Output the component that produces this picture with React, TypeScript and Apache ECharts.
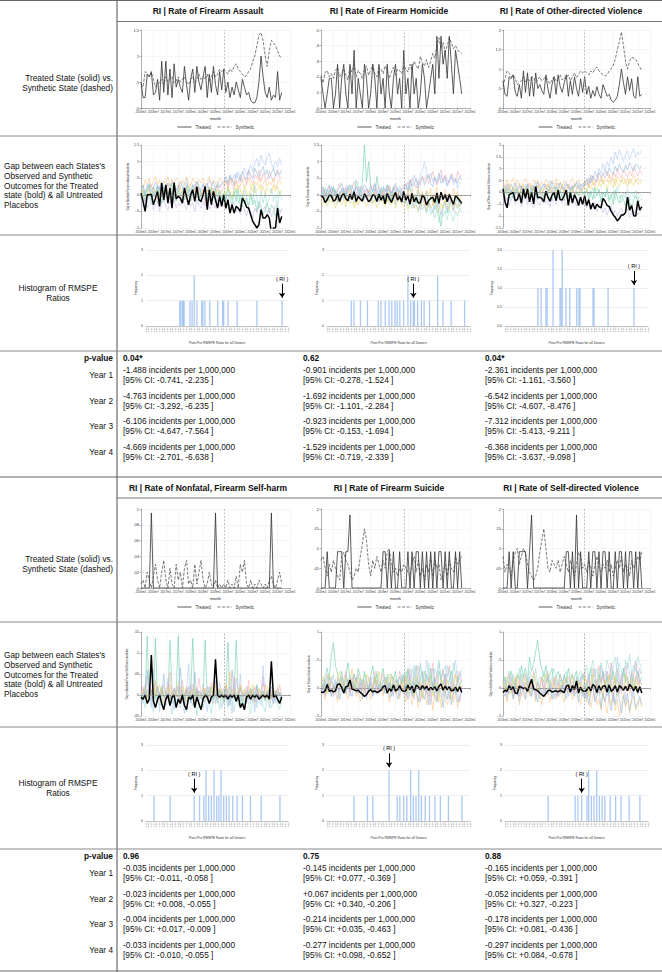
import React, { useEffect, useRef } from "react";
import * as echarts from "echarts";

const FONT = "'Liberation Sans', Arial, Helvetica, sans-serif";
const W = 662;
const H = 972;

const outcomes = [
  "RI | Rate of Firearm Assault",
  "RI | Rate of Firearm Homicide",
  "RI | Rate of Other-directed Violence",
  "RI | Rate of Nonfatal, Firearm Self-harm",
  "RI | Rate of Firearm Suicide",
  "RI | Rate of Self-directed Violence",
];
const gapAxisTitles = [
  "Gap in Nonfatal Firearm Assault incidents",
  "Gap in Firearm Homicide incidents",
  "Gap in Other-directed Violence incidents",
  "Gap in Nonfatal Firearm Self-harm incidents",
  "Gap in Firearm Suicide incidents",
  "Gap in Self-directed Violence incidents",
];
const pValues = ["0.04*", "0.62", "0.04*", "0.96", "0.75", "0.88"];
const yearLabels = ["Year 1", "Year 2", "Year 3", "Year 4"];
const legendNames = ["Treated", "Synthetic"];

// [estimate, CI bound, CI bound] for each post-period year
const effectsAssault = [["-1.488", "-0.741", "-2.235"], ["-4.763", "-3.292", "-6.235"], ["-6.106", "-4.647", "-7.564"], ["-4.669", "-2.701", "-6.638"]];
const effectsHomicide = [["-0.901", "-0.278", "-1.524"], ["-1.692", "-1.101", "-2.284"], ["-0.923", "-0.153", "-1.694"], ["-1.529", "-0.719", "-2.339"]];
const effectsOther = [["-2.361", "-1.161", "-3.560"], ["-6.542", "-4.607", "-8.476"], ["-7.312", "-5.413", "-9.211"], ["-6.368", "-3.637", "-9.098"]];
const effectsSelfHarm = [["-0.035", "-0.011", "-0.058"], ["-0.023", "+0.008", "-0.055"], ["-0.004", "+0.017", "-0.009"], ["-0.033", "-0.010", "-0.055"]];
const effectsSuicide = [["-0.145", "+0.077", "-0.369"], ["+0.067", "+0.340", "-0.206"], ["-0.214", "+0.035", "-0.463"], ["-0.277", "+0.098", "-0.652"]];
const effectsSelfDirected = [["-0.165", "+0.059", "-0.391"], ["-0.052", "+0.327", "-0.223"], ["-0.178", "+0.081", "-0.436"], ["-0.297", "+0.084", "-0.678"]];

// months counted from 2016m1; policy start and axis end
const TREAT_MONTH = 40;
const AXIS_MONTHS = 72;

// treated (solid) and synthetic (dashed) monthly rates
const treatedAssault = [0.5, 0.2, 0.2, 0.65, 0.6, 0.7, 0.25, 0.3, 0.55, 0.15, 0.9, 0.3, 0.9, 0.25, 0.75, 0.2, 0.85, 0.4, 0.55, 0.4, 0.3, 0.8, 0.45, 0.15, 0.55, 0.75, 0.3, 0.8, 0.5, 0.35, 0.6, 0.8, 0.2, 0.65, 0.3, 0.8, 0.45, 0.25, 0.7, 0.35, 0.75, 0.3, 0.5, 0.2, 0.4, 0.25, 0.5, 0.35, 0.2, 0.55, 0.4, 0.25, 0.3, 0.15, 0.1, 0.1, 0.2, 0.5, 1.0, 0.6, 0.3, 0.2, 0.4, 0.15, 0.25, 0.2, 0.7, 0.15, 0.3];
const synthAssault = [0.45, 0.4, 0.7, 0.65, 0.6, 0.68, 0.55, 0.4, 0.45, 0.5, 0.55, 0.45, 0.6, 0.5, 0.55, 0.6, 0.48, 0.52, 0.6, 0.5, 0.55, 0.6, 0.5, 0.45, 0.55, 0.6, 0.5, 0.55, 0.65, 0.55, 0.6, 0.55, 0.65, 0.5, 0.6, 0.7, 0.6, 0.65, 0.75, 0.7, 0.75, 0.7, 0.65, 0.75, 0.7, 0.8, 0.85, 0.75, 0.7, 0.65, 0.6, 0.62, 0.7, 0.75, 0.9, 1.0, 1.2, 1.4, 1.45, 1.3, 1.0, 0.8, 1.1, 1.3, 1.25, 1.2, 1.1, 1.0, 0.95];
const treatedHomicide = [0.19, 0.09, 0, 0.09, 0.19, 0.19, 0, 0.09, 0.28, 0, 0.19, 0.28, 0.09, 0, 0.28, 0.09, 0.37, 0, 0.19, 0.09, 0, 0.28, 0.19, 0, 0.09, 0.28, 0.19, 0, 0.28, 0.09, 0.19, 0, 0.28, 0.09, 0, 0.19, 0.28, 0.09, 0.19, 0, 0.37, 0.09, 0.19, 0, 0.28, 0.09, 0.19, 0, 0.09, 0.28, 0.19, 0, 0.09, 0.19, 0.28, 0.09, 0.46, 0.19, 0.46, 0.28, 0.37, 0.19, 0.46, 0.28, 0.09, 0.37, 0.28, 0.19, 0.09];
const synthHomicide = [0.21, 0.16, 0.23, 0.24, 0.2, 0.22, 0.19, 0.24, 0.26, 0.2, 0.22, 0.25, 0.21, 0.18, 0.26, 0.23, 0.28, 0.2, 0.24, 0.22, 0.19, 0.25, 0.27, 0.21, 0.24, 0.28, 0.22, 0.2, 0.26, 0.25, 0.22, 0.27, 0.24, 0.19, 0.23, 0.26, 0.21, 0.25, 0.24, 0.22, 0.27, 0.25, 0.23, 0.28, 0.24, 0.3, 0.27, 0.25, 0.33, 0.29, 0.27, 0.31, 0.26, 0.3, 0.35, 0.32, 0.4, 0.45, 0.38, 0.42, 0.36, 0.4, 0.45, 0.42, 0.38, 0.4, 0.37, 0.36, 0.35];
const treatedOther = [0.7, 0.35, 0.3, 0.8, 0.75, 0.85, 0.4, 0.3, 0.6, 0.25, 0.95, 0.4, 0.9, 0.3, 0.8, 0.3, 0.9, 0.5, 0.6, 0.45, 0.35, 0.85, 0.5, 0.25, 0.6, 0.8, 0.35, 0.85, 0.55, 0.4, 0.65, 0.85, 0.3, 0.7, 0.35, 0.8, 0.5, 0.3, 0.75, 0.4, 0.8, 0.35, 0.55, 0.25, 0.45, 0.3, 0.55, 0.35, 0.25, 0.6, 0.45, 0.3, 0.35, 0.2, 0.15, 0.2, 0.3, 0.6, 1.0, 0.65, 0.35, 0.8, 0.45, 0.75, 0.3, 0.25, 0.8, 0.3, 0.35];
const synthOther = [0.55, 0.75, 0.95, 0.9, 0.8, 0.85, 0.75, 0.6, 0.65, 0.7, 0.8, 0.65, 0.75, 0.7, 0.8, 0.78, 0.65, 0.72, 0.8, 0.7, 0.75, 0.8, 0.7, 0.62, 0.72, 0.8, 0.7, 0.75, 0.85, 0.72, 0.78, 0.75, 0.85, 0.7, 0.8, 0.9, 0.78, 0.85, 0.95, 0.9, 0.95, 0.9, 0.85, 0.95, 0.9, 1.0, 1.05, 0.95, 0.9, 0.85, 0.82, 0.85, 0.95, 1.0, 1.1, 1.25, 1.5, 1.7, 1.95, 1.6, 1.2, 1.0, 1.2, 1.3, 1.28, 1.25, 1.15, 1.05, 0.95];
const treatedSelfHarm = [0, 0, 0, 0, 0, 0.095, 0, 0, 0, 0, 0, 0, 0, 0, 0, 0, 0, 0, 0, 0, 0, 0, 0, 0, 0, 0, 0, 0, 0, 0, 0, 0, 0, 0, 0, 0, 0.095, 0, 0, 0, 0, 0, 0, 0, 0, 0, 0, 0, 0, 0, 0, 0, 0, 0, 0, 0, 0, 0, 0, 0, 0, 0, 0, 0.095, 0, 0, 0, 0, 0];
const synthSelfHarm = [0.005, 0.01, 0, 0.02, 0.01, 0, 0.015, 0.03, 0.01, 0, 0.02, 0.035, 0.01, 0, 0.025, 0.005, 0, 0.03, 0.01, 0.02, 0, 0.025, 0.035, 0.005, 0.01, 0, 0.03, 0.005, 0.02, 0.035, 0.01, 0, 0.005, 0.02, 0.005, 0, 0.01, 0, 0.005, 0, 0.005, 0, 0.01, 0, 0.005, 0, 0.015, 0, 0.03, 0.02, 0.035, 0.005, 0, 0.01, 0, 0.005, 0, 0.01, 0.005, 0, 0.005, 0, 0.01, 0.015, 0.005, 0, 0.01, 0.02, 0.005];
const treatedSuicide = [0, 0, 0, 0.092, 0, 0, 0, 0, 0.092, 0.092, 0.092, 0, 0.092, 0.092, 0.185, 0, 0, 0, 0, 0, 0, 0, 0, 0, 0, 0, 0, 0, 0, 0, 0.092, 0.092, 0, 0.092, 0, 0.092, 0, 0, 0.092, 0, 0, 0, 0.092, 0, 0.092, 0, 0.092, 0.092, 0, 0.092, 0, 0.092, 0, 0.092, 0, 0.092, 0, 0.092, 0.092, 0, 0.092, 0, 0.092, 0, 0, 0.092, 0, 0.092, 0];
const synthSuicide = [0.07, 0.08, 0.05, 0.03, 0.06, 0.04, 0.07, 0.05, 0.03, 0.02, 0.08, 0.09, 0.07, 0.06, 0.04, 0.02, 0.03, 0.05, 0.04, 0.08, 0.11, 0.15, 0.12, 0.06, 0.03, 0.07, 0.05, 0.08, 0.06, 0.04, 0.07, 0.05, 0.09, 0.1, 0.06, 0.04, 0.05, 0.03, 0.05, 0.04, 0.06, 0.05, 0.04, 0.03, 0.06, 0.08, 0.04, 0.07, 0.03, 0.05, 0.02, 0.06, 0.04, 0.08, 0.03, 0.07, 0.05, 0.06, 0.02, 0.04, 0.06, 0.03, 0.07, 0.05, 0.04, 0.08, 0.06, 0.07, 0.08];
const treatedSelfDirected = [0, 0, 0, 0.092, 0, 0.092, 0, 0, 0.092, 0.092, 0.092, 0.092, 0, 0.092, 0.185, 0, 0, 0, 0, 0, 0, 0, 0, 0, 0, 0, 0, 0, 0, 0, 0, 0.092, 0.092, 0, 0.092, 0, 0.185, 0, 0.092, 0, 0, 0, 0.092, 0, 0.092, 0.092, 0, 0.092, 0, 0.092, 0.092, 0, 0.092, 0, 0, 0.092, 0, 0.092, 0.092, 0, 0.092, 0, 0.092, 0.092, 0, 0.092, 0, 0.092, 0];
const synthSelfDirected = [0.08, 0.04, 0.06, 0.05, 0.03, 0.07, 0.09, 0.1, 0.06, 0.08, 0.1, 0.09, 0.06, 0.04, 0.03, 0.02, 0.03, 0.05, 0.09, 0.12, 0.15, 0.1, 0.05, 0.04, 0.07, 0.06, 0.05, 0.07, 0.04, 0.06, 0.08, 0.06, 0.04, 0.07, 0.05, 0.03, 0.06, 0.09, 0.08, 0.05, 0.06, 0.04, 0.07, 0.05, 0.03, 0.06, 0.08, 0.05, 0.04, 0.06, 0.05, 0.07, 0.04, 0.06, 0.03, 0.05, 0.07, 0.05, 0.08, 0.04, 0.06, 0.05, 0.03, 0.07, 0.05, 0.06, 0.08, 0.07, 0.09];

// placebo gaps for untreated donor states (hundredths; self-harm in thousandths)
const placeboAssault = [
  [10, 25, 5, 30, 15, -5, 20, 40, 10, 25, 35, 15, 30, 5, 20, 45, 25, 10, 30, 20, 15, 35, 50, 20, 10, 30, 25, 40, 15, 20, 35, 10, 25, 45, 30, 15, 20, 40, 25, 30, 35, 45, 30, 55, 40, 60, 50, 70, 45, 65, 80, 60, 75, 90, 70, 95, 110, 85, 120, 100, 90, 115, 125, 95, 80, 100, 85, 110, 90],
  [-10, 15, -20, 5, 30, -15, 10, -5, 25, 0, -25, 10, 20, -10, 5, 35, -5, -20, 15, 0, 10, -15, 25, 5, -10, 20, -5, 15, -20, 10, 0, 25, -15, 5, 20, -10, 15, -5, 10, -20, 5, -15, 20, -5, -30, 10, -20, 15, -35, 0, -25, -10, -40, 5, -30, -15, -50, -20, -35, -60, -45, -25, -55, -30, -40, -65, -35, -50, -45],
  [20, -10, 5, -25, 15, 30, -5, 10, -15, 25, 5, -20, 15, 35, 0, -10, 20, -5, 30, 10, -15, 25, 0, 15, -20, 5, 30, -10, 20, 0, 15, -25, 10, 25, -5, 20, 0, 30, -10, 15, 25, 40, 20, 50, 30, 15, 45, 35, 60, 40, 55, 30, 70, 45, 35, 60, 50, 75, 40, 65, 50, 45, 70, 55, 40, 60, 75, 50, 55],
  [35, 20, 45, 30, 50, 25, 40, 55, 30, 45, 20, 40, 35, 55, 25, 45, 30, 50, 40, 20, 45, 30, 55, 35, 25, 50, 40, 30, 45, 35, 50, 25, 40, 55, 30, 45, 35, 20, 50, 40, 30, 45, 20, 35, 50, 25, 40, 15, 30, 45, 20, 35, 50, 25, 10, 40, 30, 55, 20, 35, 45, 25, 40, 30, 50, 20, 35, 45, 30],
  [-20, -35, -10, -40, -25, -15, -45, -30, -20, -50, -25, -10, -35, -45, -20, -30, -15, -40, -25, -35, -10, -30, -45, -20, -35, -25, -50, -15, -30, -40, -20, -35, -10, -45, -30, -25, -40, -15, -35, -20, -30, -45, -25, -55, -35, -20, -50, -40, -60, -30, -45, -65, -35, -50, -70, -40, -55, -30, -60, -45, -35, -55, -40, -65, -50, -30, -45, -60, -40],
  [5, 15, -5, 20, 10, 0, 25, 5, 15, -10, 20, 5, 30, 10, -5, 15, 25, 0, 10, 20, 5, -10, 15, 30, 10, 0, 20, 5, 25, 10, -5, 15, 10, 25, 0, 20, 5, 15, -5, 10, 15, 0, 25, 10, -10, 20, 5, 30, 15, 0, 25, 10, -5, 20, 35, 5, 15, 30, 10, 25, 0, 20, 15, 5, 30, 10, 25, 0, 15],
  [15, 30, 0, 20, 35, 10, 25, 5, 30, 15, 40, 20, 10, 35, 25, 0, 30, 15, 20, 40, 25, 10, 35, 20, 5, 30, 15, 40, 25, 10, 30, 20, 35, 5, 25, 40, 15, 30, 20, 35, 40, 55, 35, 60, 45, 30, 65, 50, 40, 70, 55, 45, 75, 60, 50, 80, 65, 55, 70, 85, 60, 75, 50, 65, 80, 55, 70, 60, 75],
  [-5, -20, 10, -15, 0, -30, 5, -10, -25, 15, -5, -20, 0, 10, -15, -30, 5, -10, 20, -5, -25, 0, -10, 15, -20, 5, -15, -5, 10, -25, 0, -15, 5, -20, 10, -5, -25, 0, 15, -10, -20, 5, -30, 10, -15, -5, 20, -25, 0, -35, 15, -10, -30, 5, -20, 30, -15, -40, 10, -25, 5, -30, -10, 20, -20, 0, -35, 10, -15],
];
const placeboHomicide = [
  [-10, 15, 5, -20, 10, 25, -5, 15, 0, -15, 20, 5, -10, 30, 10, -5, 15, -20, 5, 25, 0, -15, 20, 10, -5, 15, 30, 0, -10, 20, 5, -20, 15, 25, -5, 10, 0, 20, -15, 5, 15, 30, 10, 45, 25, 60, 40, 30, 55, 75, 100, 70, 50, 65, 40, 55, 30, 45, 60, 35, 50, 25, 40, 55, 30, 45, 20, 35, 40],
  [10, -5, 20, 0, 15, -10, 25, 5, -15, 10, 0, 20, -10, 15, 30, 5, -5, 45, 20, 10, 35, 150, 40, 100, 25, 10, -5, 55, 15, 0, 20, -10, 30, 5, -15, 25, 10, -5, 15, 0, 10, -20, 5, 25, -10, 0, -25, 15, -30, 5, -15, 10, -35, -5, -20, -45, -10, -60, -95, -40, -20, -55, -30, -10, -45, -25, -5, -35, -20],
  [5, 20, -10, 10, 25, 0, 15, -5, 20, 35, 10, -5, 25, 15, 0, 20, 40, 10, -10, 15, 25, 5, 20, -5, 15, 30, 10, 0, 25, 15, -5, 20, 10, 30, 5, 15, 25, -10, 10, 20, 30, 15, 40, 25, 50, 35, 20, 45, 30, 55, 40, 60, 35, 50, 70, 45, 30, 55, 75, 40, 60, 45, 35, 65, 50, 40, 70, 55, 60],
  [-15, 0, 10, -20, 5, -10, 15, -5, -25, 5, -10, 10, -20, 0, 15, -15, 5, -30, -5, 10, -20, 5, -10, 15, -25, 0, 10, -15, 5, -20, 10, -5, -20, 15, -10, 5, -25, 0, 10, -15, 5, -20, 15, -5, 20, -15, 0, 25, -10, 10, -25, 15, -5, 20, -30, 5, 25, -15, 10, -20, 15, -10, 5, -25, 20, -5, 10, -20, 0],
  [20, 5, -10, 15, 0, 25, -5, 10, -15, 5, 15, -10, 20, 0, -20, 10, 5, -5, 25, -10, 5, 15, -15, 10, 0, -10, 20, 5, -20, 15, 0, -5, 15, -15, 10, 20, -10, 5, -5, 15, -10, -25, 5, -30, -15, -40, 0, -20, -45, -10, -30, -50, -20, -35, -55, -15, -40, -25, -60, -30, -20, -45, -10, -35, -50, -25, -40, -15, -30],
  [-20, -30, -10, -35, -15, -25, -5, -40, -20, -10, -30, -15, -35, -5, -25, -20, -40, -10, -30, -15, -5, -25, -35, -20, -10, -30, -15, -40, -25, -5, -20, -35, -10, -25, -30, -15, -40, -20, -10, -30, -35, -20, -45, -25, -10, -40, -30, -50, -15, -35, -25, -45, -20, -40, -30, -10, -35, -50, -25, -40, -15, -30, -45, -20, -35, -25, -40, -30, -20],
  [10, 25, 0, 15, 30, 5, 20, -5, 10, 25, 35, 10, 0, 20, 15, 30, 5, 25, 10, -5, 15, 30, 20, 5, 25, 10, 35, 15, 0, 20, 25, 10, 30, 15, 5, 20, 35, 10, 25, 15, 20, 35, 15, 45, 25, 30, 50, 20, 40, 55, 30, 45, 60, 35, 25, 50, 40, 65, 35, 45, 55, 30, 45, 60, 40, 50, 35, 55, 45],
  [-5, 10, -15, 0, -20, 5, -10, 15, -25, -5, 0, -15, 10, -20, -5, 5, -25, 0, -10, 15, -20, -5, 5, -15, 10, -25, -10, 0, -20, 5, -15, 0, -5, -20, 5, -10, -30, -5, 0, -15, -25, -10, -35, -20, -40, -15, -30, -50, -25, -45, -35, -55, -30, -60, -45, -70, -40, -85, -55, -65, -50, -75, -45, -60, -80, -50, -65, -40, -55],
];
const placeboOther = [
  [10, 30, -5, 20, 35, 15, -10, 25, 40, 5, 20, 35, 10, -5, 30, 15, 45, 20, 0, 25, 35, 10, 30, 50, 15, -5, 25, 40, 20, 10, 30, 45, 15, 25, 5, 35, 20, 40, 30, 15, 45, 60, 35, 75, 50, 90, 65, 100, 80, 120, 95, 130, 110, 150, 120, 170, 140, 180, 155, 130, 160, 175, 140, 165, 185, 150, 170, 160, 180],
  [-15, 5, 20, -10, 10, -25, 15, 0, -20, 25, 5, -10, 30, -15, 0, 20, -5, -30, 10, 15, -20, 5, -10, 25, 0, -15, 20, -5, 10, -25, 15, -5, -20, 10, 25, -10, 5, -15, 20, 0, -10, 15, -25, 5, -30, 20, -15, 10, -40, 0, -20, 15, -35, -5, -50, 10, -25, -45, -10, -30, -55, -20, -40, -65, -30, -15, -50, -35, -25],
  [25, 0, 15, 35, -5, 20, 10, -15, 30, 5, -10, 25, 15, 40, 0, 20, -5, 30, 10, -20, 15, 35, 5, 20, -10, 25, 40, 0, 15, 30, -5, 20, 35, 10, 25, -10, 15, 30, 5, 20, 30, 50, 20, 65, 40, 30, 75, 55, 45, 80, 60, 90, 70, 55, 85, 65, 100, 75, 60, 95, 80, 65, 90, 70, 110, 85, 70, 95, 75],
  [40, 20, 55, 30, 45, 60, 25, 50, 35, 15, 45, 60, 30, 40, 20, 55, 35, 50, 25, 45, 30, 55, 40, 20, 50, 35, 60, 25, 45, 30, 50, 35, 20, 45, 60, 30, 40, 55, 25, 40, 35, 55, 25, 45, 70, 30, 50, 40, 65, 35, 55, 45, 75, 40, 60, 30, 70, 50, 45, 65, 40, 60, 35, 55, 75, 45, 60, 50, 55],
  [-30, -45, -20, -55, -35, -15, -50, -40, -25, -60, -35, -20, -50, -30, -45, -65, -25, -40, -55, -30, -20, -45, -35, -60, -25, -40, -50, -15, -35, -45, -25, -55, -40, -20, -45, -35, -60, -30, -50, -40, -45, -65, -35, -75, -55, -40, -80, -60, -50, -85, -65, -95, -70, -55, -90, -75, -100, -80, -65, -95, -85, -70, -105, -80, -90, -75, -95, -85, -80],
  [5, 20, -10, 15, 30, 0, 25, 10, -5, 20, 35, 5, 15, -10, 25, 10, 0, 30, 15, -5, 20, 10, 35, 0, 15, 25, -10, 20, 5, 30, 10, -5, 25, 15, 0, 35, 20, 5, -10, 15, 25, 5, 30, 15, 45, 20, 10, 40, 25, 55, 30, 15, 50, 35, 20, 60, 40, 25, 55, 35, 45, 25, 60, 40, 30, 50, 35, 45, 40],
  [20, 5, 35, 15, -5, 25, 40, 10, 20, 30, 0, 15, 35, 20, 5, 30, 10, 45, 25, 15, 35, 20, 5, 30, 45, 15, 25, 10, 40, 20, 15, 35, 25, 5, 30, 20, 45, 15, 35, 25, 45, 30, 60, 40, 70, 55, 45, 85, 65, 75, 95, 70, 105, 85, 75, 110, 90, 120, 100, 85, 115, 95, 125, 105, 90, 120, 110, 100, 115],
  [-10, -25, 5, -15, -30, 0, -20, 10, -5, -35, -15, 0, -25, -10, 15, -20, -5, -30, 5, -15, -25, -5, 10, -20, -35, 0, -10, -25, 5, -15, -30, -5, -20, 10, -15, -25, 0, -10, -35, -5, -15, 5, -30, -10, 20, -25, -5, 15, -35, 0, -20, 10, -40, -15, 5, -30, 25, -10, -45, -5, -25, 15, -35, 0, -20, 10, -30, -15, -10],
];
const placeboSelfHarm = [
  [10, -20, 25, -5, 0, -30, 60, -10, 5, -40, 15, 0, -25, 40, -10, 5, -35, 0, 20, -15, 0, -45, 10, 75, -20, 5, -30, 15, 0, -10, 25, -5, -40, 10, 0, -20, 35, -10, 5, -30, 0, 15, -25, 5, -45, 20, 0, -15, 50, -5, -35, 10, 0, -20, 15, -40, 5, 0, -25, 70, -10, 5, -30, 0, 15, -20, 5, -10, 0],
  [0, -10, 5, 140, -5, 10, 0, 135, -15, 5, 20, -5, 0, -10, 130, 10, -5, 0, 140, -20, 5, -10, 15, 0, -5, 135, 10, -15, 0, 5, -10, 130, 0, -5, 20, -10, 0, -5, 10, 0, -15, 5, 125, 0, -10, 10, 130, -5, 0, -20, 5, 0, -10, 15, -5, 0, 25, -10, 5, 0, -15, 10, 0, -5, 5, -10, 0, 5, -5],
  [5, 20, -10, 45, 0, 15, -5, 30, 10, -15, 0, 25, 5, -10, 55, 0, -5, 20, 10, -20, 35, 0, 15, -5, 10, 25, -15, 0, 40, 5, -10, 15, 0, -5, 30, 10, -20, 5, 15, 0, -5, 25, 10, -15, 0, 45, 5, -10, 20, 0, 10, -5, 35, 0, -15, 20, 5, -5, 10, 30, 0, -10, 15, 5, -20, 10, 0, 25, -5],
  [-5, 10, 0, -15, 20, 5, -10, 35, 0, -5, 15, -20, 5, 0, 25, -10, 10, -5, 30, 0, -15, 5, 20, -5, 0, 15, -25, 10, 0, -10, 20, 5, -15, 0, 10, -5, 25, -10, 5, 15, -20, 0, 10, 55, -5, 15, 0, -10, 25, 5, -15, 0, 20, -5, 10, -20, 5, 15, 0, -10, 25, 0, -15, 10, 5, -5, 20, 0, -10],
  [0, 15, -5, 10, 25, -10, 5, 0, 20, -5, 10, 0, -15, 30, 5, -5, 15, 0, -10, 20, 5, -20, 10, 0, 25, -5, 5, 15, -10, 0, 10, -5, 20, 0, -15, 5, 10, -5, 30, 0, 15, -10, 5, 20, 0, -5, 40, 10, -15, 5, 0, 20, -10, 5, 15, 0, -20, 10, 5, 45, -5, 10, 0, 20, -10, 5, 15, 0, 5],
  [10, 0, 20, -5, 10, 5, -10, 15, 0, 25, -5, 10, 0, 20, -10, 5, 15, 0, -5, 10, 20, 0, -15, 10, 5, 0, 20, -5, 10, 0, -10, 15, 5, 0, 20, -5, 10, 0, 15, -10, 5, 25, 0, -5, 15, 10, -10, 5, 20, 0, 15, -5, 10, 0, 25, -10, 5, 15, 0, 10, -5, 20, 5, -10, 15, 0, 10, 5, 0],
  [-10, 5, 0, 60, -5, 10, -15, 0, 20, -5, 0, 50, -10, 5, 0, -20, 15, 0, -5, 65, 0, -10, 5, 20, -15, 0, 55, -5, 10, 0, -15, 5, 0, 20, -10, 0, 5, -20, 10, 0, -5, 15, 0, -25, 60, 5, -10, 0, 15, -5, 0, -20, 10, 5, 0, -15, 20, -5, 0, 10, -10, 0, 15, -5, -20, 10, 0, 5, -10],
  [-20, 0, -30, 10, -15, -5, -40, 5, -10, -25, 0, -35, -10, 5, -20, -45, 0, -15, -5, -30, 10, -20, -40, 0, -10, -25, 5, -50, -15, 0, -30, -10, 5, -20, -45, 0, -15, -5, -35, 10, -20, -5, -30, 0, -15, -40, 5, -25, -10, -5, -35, 0, -20, -45, -10, 5, -30, -15, 0, -25, -40, -10, 0, -30, -15, 5, -20, -35, -10],
];
const placeboSuicide = [
  [-5, 10, -15, 5, 20, -10, 0, 15, -20, 5, 10, -5, 25, 0, -15, 10, -5, 20, 5, -10, 0, 15, -20, 5, 10, -15, 20, -5, 0, 10, -10, 5, 15, -20, 0, 10, -5, 15, -15, 5, 20, -10, 30, 10, -5, 40, 15, 0, 45, 20, 10, 50, 25, 5, 35, -10, 20, 45, 15, 30, 5, 40, 20, -5, 30, 50, 10, 25, 20],
  [10, -5, 20, 35, 15, 60, 80, 40, 25, 10, 30, 5, 20, 45, 15, 0, 25, 10, 35, 20, 5, 30, 15, -5, 20, 40, 10, 25, 0, 15, 35, 10, 20, -5, 25, 15, 30, 5, 20, 10, 25, 0, 35, 15, -10, 20, 40, 5, 15, 30, -5, 25, 10, 35, 0, 20, -10, 30, 15, 5, 25, -5, 15, 30, 10, -10, 20, 5, 15],
  [15, 0, 10, 25, -5, 15, 5, -10, 20, 10, -5, 15, 30, 5, -10, 20, 0, 10, 25, -5, 15, 5, -15, 20, 10, 0, 30, 5, -10, 15, 25, 0, 10, -5, 20, 15, -10, 5, 30, 10, -5, 20, 5, 35, 15, -10, 25, 40, 0, 15, 30, 10, -15, 20, 45, 5, 25, -5, 15, 35, 0, 20, 40, 10, -10, 25, 15, 30, 10],
  [-10, 5, -20, 0, 10, -15, 5, -5, -25, 0, 15, -10, 0, -20, 5, -5, 10, -15, 0, -25, 5, -10, 10, -5, -20, 0, 15, -10, -5, 5, -15, 0, 10, -25, -5, 5, -10, 0, -20, 10, -5, -25, 5, -15, -30, 0, -10, -35, -5, -20, 5, -30, -15, 0, -40, -10, -25, 5, -35, -15, -5, -30, -20, 0, -25, -10, -35, -15, -20],
  [5, -10, 15, -5, 0, 20, -15, 10, 0, -5, 20, 5, -10, 15, -5, 0, 25, -10, 5, 15, -5, 10, -15, 0, 20, 5, -10, 15, -5, 0, 10, 20, -10, 5, 0, -15, 15, 5, -5, 20, 10, -15, 0, 25, -5, -20, 15, 5, -25, 10, 0, -10, 20, -30, 5, 15, -20, 0, 10, -15, 25, -5, -20, 10, 0, -10, 15, -25, 5],
  [0, 20, 5, -10, 25, 10, 0, -5, 15, 30, 5, -10, 20, 0, 10, 35, -5, 15, 0, 20, 10, -5, 25, 15, 0, -10, 20, 5, 30, 0, -5, 15, 10, 25, 0, 20, -10, 10, 5, 15, 0, 25, -10, 15, 5, -15, 20, 0, 10, -20, 15, 5, -5, 25, -15, 10, 0, -25, 20, 5, -10, 15, 0, -20, 10, 25, -5, 5, 0],
  [-5, 5, -10, 10, 0, -15, 5, -5, 10, -20, 0, 5, -10, 15, -5, -15, 5, 0, -10, 10, -20, 0, 5, -5, 10, -15, 0, 5, -10, -5, 5, -10, 0, 10, -15, -5, 5, -20, 0, -5, -10, 5, -20, 0, -15, 10, -5, -25, 5, -10, -20, 0, -30, -5, 10, -15, -25, 0, -10, -35, -5, -20, 0, -30, -10, 5, -25, -15, -10],
  [10, 15, 0, 20, 5, 10, 25, 0, 15, 5, 20, 10, -5, 15, 25, 5, 10, 0, 20, 15, 5, 25, 10, 0, 15, 20, 5, 30, 10, 0, 15, 5, 25, 10, -5, 20, 10, 15, 0, 25, 10, 30, 15, 5, 35, 20, 0, 25, 40, 10, 30, 15, 45, 20, 5, 35, 25, 50, 15, 30, 40, 20, 35, 10, 45, 25, 30, 15, 35],
];
const placeboSelfDirected = [
  [-10, 5, -20, 10, 0, -15, 15, -5, -25, 5, 10, -10, 0, 20, -15, 5, -5, 10, -20, 0, 15, -5, -10, 10, 0, -20, 5, 15, -10, 0, -5, 15, -15, 5, 0, -10, 20, -5, 5, -15, 10, -20, 25, -5, 15, 35, 0, -10, 40, 20, 5, 30, -15, 45, 20, 10, 55, 25, 0, 35, 15, 45, 25, 5, 30, 50, 15, 35, 25],
  [5, 20, -5, 15, 30, 10, 0, 25, 15, 40, 20, 35, 10, 55, 30, 45, 65, 85, 50, 35, 20, 40, 10, 25, 35, 5, 20, 30, 15, 0, 25, 10, 35, 15, -5, 20, 30, 5, 15, 25, 10, -10, 20, 35, 0, 15, -5, 25, 10, 30, 0, 20, -10, 15, 30, 5, 25, -5, 15, 35, 10, 20, 0, 25, -5, 15, 30, 10, 20],
  [15, -5, 10, 25, 5, -10, 20, 0, 15, -15, 5, 25, -5, 10, 0, 30, 15, -10, 5, 20, 0, 15, 30, -5, 10, 20, 5, -15, 25, 10, 0, -5, 20, 10, 25, -10, 5, 15, 0, 20, 30, 5, 15, -10, 35, 20, 0, 40, 10, 25, -5, 30, 15, 45, 0, 20, 35, 10, -10, 25, 40, 15, 0, 30, 20, 45, 5, 25, 30],
  [-15, 0, -25, -5, 10, -20, -5, 5, -30, -10, 0, -20, 5, -15, -5, 10, -25, 0, -10, -30, 5, -15, -5, -25, 0, 10, -20, -10, 5, -15, -25, 0, -10, 5, -20, -5, 10, -15, -30, 0, -10, -25, 0, -35, -15, 5, -30, -20, -40, -5, -25, -45, -15, -30, -5, -40, -20, -50, -30, -10, -35, -20, -45, -25, -15, -40, -30, -20, -35],
  [0, 15, -10, 5, 20, -5, 10, -15, 0, 25, -5, 10, 0, -10, 15, 5, -20, 10, 0, 15, -10, 5, 20, -5, 0, 15, -15, 10, 5, -10, 20, 0, -5, 15, -10, 5, 10, -5, 20, 0, -15, 10, 25, -5, 0, -20, 15, 5, -10, 30, 0, -15, 20, 10, -25, 5, 15, -10, 25, 0, -20, 10, 5, -15, 20, 0, -10, 15, 5],
  [10, -5, 20, 0, -10, 15, 5, 25, -5, 10, 20, 0, 15, -10, 5, 25, 10, -5, 0, 20, 10, 25, -5, 15, 5, 0, 20, 10, -10, 15, 5, 20, 0, 10, 25, -5, 15, 0, 10, -10, 20, 5, -15, 10, 25, 0, -10, 20, 5, -20, 15, 0, 25, -10, 5, 20, -15, 10, 0, -5, 25, 5, -10, 15, 0, 20, -5, 10, 5],
  [-5, -15, 0, -10, 5, -20, -5, 0, -15, 5, -10, -20, 0, -5, -15, 5, -10, -25, 0, -5, -15, 0, -10, 5, -20, -5, 0, -15, -10, 5, -5, -20, 0, -10, 5, -15, -5, -25, 0, -10, -20, -5, -30, -10, 5, -25, -15, 0, -35, -10, -25, 5, -20, -40, -10, -30, 0, -20, -45, -15, -30, -10, -40, -20, -5, -35, -25, -15, -30],
  [20, 5, 15, 30, 10, 25, 0, 15, 35, 10, 25, 15, 5, 30, 20, 10, 35, 5, 20, 15, 30, 10, 25, 0, 20, 35, 15, 5, 25, 10, 20, 30, 5, 15, 25, 10, 0, 20, 30, 15, 25, 40, 15, 30, 50, 20, 35, 10, 45, 30, 20, 50, 35, 15, 40, 55, 25, 45, 30, 20, 50, 35, 60, 25, 40, 30, 55, 45, 35],
];

// post/pre RMSPE ratio of each donor, its bar height, and Rhode Island's own ratio
const ratiosAssault = [0.63, 0.65, 0.68, 0.7, 0.71, 0.82, 0.86, 0.9, 0.95, 1.04, 1.06, 1.1, 1.19, 1.34, 1.43, 1.45, 1.53, 1.7, 2.07];
const countsAssault = [1, 1, 1, 1, 1, 1, 1, 2, 1, 1, 1, 1, 1, 1, 1, 1, 1, 1, 1];
const riAssault = 2.54;
const ratiosHomicide = [0.45, 0.5, 0.62, 0.75, 0.95, 1.0, 1.08, 1.15, 1.2, 1.26, 1.3, 1.35, 1.42, 1.5, 1.55, 1.62, 1.68, 1.75, 1.8, 1.9, 2.05, 2.15, 2.3, 2.55];
const countsHomicide = [1, 1, 1, 1, 1, 1, 1, 1, 1, 1, 1, 1, 1, 2, 1, 1, 1, 1, 1, 1, 2, 1, 1, 1];
const riHomicide = 1.6;
const ratiosOther = [0.61, 0.67, 0.76, 0.78, 0.89, 1.02, 1.04, 1.06, 1.13, 1.2, 1.33, 1.37, 1.39, 1.63, 1.65, 1.91];
const countsOther = [1, 1, 1, 1, 2, 1, 1, 2, 1, 1, 1, 1, 1, 1, 1, 1];
const riOther = 2.39;
const ratiosSelfHarm = [0.15, 0.45, 1.0, 1.08, 1.12, 1.17, 1.22, 1.27, 1.32, 1.36, 1.4, 1.45, 1.5, 1.55, 1.62, 1.7, 1.8, 1.95, 2.15, 2.5];
const countsSelfHarm = [1, 1, 1, 1, 2, 1, 1, 2, 1, 1, 2, 1, 1, 1, 1, 1, 1, 1, 1, 1];
const riSelfHarm = 0.9;
const ratiosSuicide = [0.5, 0.75, 0.85, 1.3, 1.35, 1.42, 1.48, 1.55, 1.6, 1.65, 1.7, 1.75, 1.82, 1.9, 2.0, 2.1, 2.25, 2.5];
const countsSuicide = [1, 1, 1, 1, 1, 1, 1, 2, 1, 1, 2, 1, 1, 1, 1, 1, 1, 1];
const riSuicide = 1.15;
const ratiosSelfDirected = [0.8, 1.3, 1.35, 1.52, 1.55, 1.6, 1.65, 1.7, 1.75, 1.8, 1.85, 1.95, 2.05, 2.15, 2.3, 2.5];
const countsSelfDirected = [1, 1, 1, 1, 2, 1, 1, 2, 1, 1, 1, 1, 1, 1, 1, 1];
const riSelfDirected = 1.42;

const panels = [
  { treated: treatedAssault, synth: synthAssault, placebos: placeboAssault, unit: 0.01, effects: effectsAssault, ratios: ratiosAssault, counts: countsAssault, ri: riAssault, riCount: 1 },
  { treated: treatedHomicide, synth: synthHomicide, placebos: placeboHomicide, unit: 0.01, effects: effectsHomicide, ratios: ratiosHomicide, counts: countsHomicide, ri: riHomicide, riCount: 1 },
  { treated: treatedOther, synth: synthOther, placebos: placeboOther, unit: 0.01, effects: effectsOther, ratios: ratiosOther, counts: countsOther, ri: riOther, riCount: 1 },
  { treated: treatedSelfHarm, synth: synthSelfHarm, placebos: placeboSelfHarm, unit: 0.001, effects: effectsSelfHarm, ratios: ratiosSelfHarm, counts: countsSelfHarm, ri: riSelfHarm, riCount: 1 },
  { treated: treatedSuicide, synth: synthSuicide, placebos: placeboSuicide, unit: 0.01, effects: effectsSuicide, ratios: ratiosSuicide, counts: countsSuicide, ri: riSuicide, riCount: 2 },
  { treated: treatedSelfDirected, synth: synthSelfDirected, placebos: placeboSelfDirected, unit: 0.01, effects: effectsSelfDirected, ratios: ratiosSelfDirected, counts: countsSelfDirected, ri: riSelfDirected, riCount: 1 },
];

// axis ranges
const lineY = [{ max: 1.5, step: 0.5 }, { max: 0.5, step: 0.1 }, { max: 2, step: 0.5 }, { max: 0.1, step: 0.02 }, { max: 0.2, step: 0.05 }, { max: 0.2, step: 0.05 }];
const gapY = [{ min: -1, max: 1.5, step: 0.5 }, { min: -1, max: 1.5, step: 0.5 }, { min: -1.5, max: 2, step: 0.5 }, { min: -0.05, max: 0.15, step: 0.05 }, { min: -0.5, max: 1, step: 0.5 }, { min: -0.5, max: 1, step: 0.5 }];
const histY = [{ max: 3, step: 1, dec: 0 }, { max: 3, step: 1, dec: 0 }, { max: 2, step: 0.5, dec: 1 }, { max: 3, step: 1, dec: 0 }, { max: 3, step: 1, dec: 0 }, { max: 3, step: 1, dec: 0 }];
const HIST_X_MAX = 2.65;

const placeboColors = ["#a9c6f5", "#5fcba0", "#f5a9b4", "#fbc47a", "#c4b2e6", "#e3d65e", "#86b4dc", "#98dccf"];

// page layout (px)
const DIVIDER_X = 117;
const colCenters = [208, 389, 571];
const plotLeft = [141, 321, 503];
const plotWidth = [149, 149, 147];
const histLeft = [146, 327, 505];
const histWidth = [142, 143, 143];
const blockTop = [0, 477];
const headerLine = [21.5, 498];
const lineRow = [[30, 108], [509, 588]];
const gapRow = [[145, 228], [632, 716]];
const histRow = [[250, 326], [745, 821]];
const rowSeps = [[136, 235, 351], [622, 727, 849]];
const blockEnd = [477, 971];

const monthLabel = (v: number) => `${2016 + Math.floor(v / 12)}m${(v % 12) + 1}`;
const stataNum = (v: number) => String(Math.round(v * 1000) / 1000).replace(/^(-?)0\./, "$1.");

const thinAxis = { show: true, lineStyle: { color: "#666", width: 0.5 } };
const thinTick = { show: true, length: 1.5, lineStyle: { color: "#666", width: 0.5 } };
const softGrid = { show: true, lineStyle: { color: "#ececec", width: 0.5 } };

function buildOption() {
  const grid: any[] = [];
  const xAxis: any[] = [];
  const yAxis: any[] = [];
  const series: any[] = [];
  const graphic: any[] = [];

  const text = (x: number, y: number, t: string, size: number, align = "left", bold = false, fill = "#111") =>
    graphic.push({
      type: "text",
      silent: true,
      style: { x, y, text: t, fontSize: size, fontFamily: FONT, fontWeight: bold ? "bold" : "normal", fill, textAlign: align, textVerticalAlign: "middle", verticalAlign: "middle" },
    });
  const hline = (x1: number, x2: number, y: number, w = 1, c = "#7a7a7a", dash?: number[]) =>
    graphic.push({ type: "line", silent: true, shape: { x1, y1: y, x2, y2: y }, style: { stroke: c, lineWidth: w, lineDash: dash } });

  panels.forEach((p, i) => {
    const b = i < 3 ? 0 : 1;
    const c = i % 3;

    // treated vs synthetic
    let gi = grid.length;
    grid.push({ left: plotLeft[c], width: plotWidth[c], top: lineRow[b][0], height: lineRow[b][1] - lineRow[b][0] });
    xAxis.push({
      type: "value", gridIndex: gi, min: 0, max: AXIS_MONTHS, interval: 6,
      name: "month", nameLocation: "middle", nameGap: 8, nameTextStyle: { fontSize: 4, fontFamily: FONT, color: "#222" },
      axisLabel: { fontSize: 3, fontFamily: FONT, color: "#333", margin: 2, formatter: monthLabel },
      axisLine: thinAxis, axisTick: thinTick, splitLine: softGrid,
    });
    yAxis.push({
      type: "value", gridIndex: gi, min: 0, max: lineY[i].max, interval: lineY[i].step,
      axisLabel: { fontSize: 4, fontFamily: FONT, color: "#333", margin: 2, formatter: stataNum },
      axisLine: thinAxis, axisTick: thinTick, splitLine: softGrid,
    });
    series.push({
      name: legendNames[0], type: "line", xAxisIndex: gi, yAxisIndex: gi, symbol: "none", silent: true,
      data: p.treated.map((v, m) => [m, v]),
      color: "#333",
      lineStyle: { color: "#333", width: 0.8 },
      markLine: { silent: true, symbol: "none", label: { show: false }, lineStyle: { color: "#999", width: 0.6, type: [2, 1.5] }, data: [{ xAxis: TREAT_MONTH }] },
    });
    series.push({
      name: legendNames[1], type: "line", xAxisIndex: gi, yAxisIndex: gi, symbol: "none", silent: true,
      data: p.synth.map((v, m) => [m, v]),
      color: "#444",
      lineStyle: { color: "#444", width: 0.7, type: [3, 1.5] },
    });
    // key below the plot: solid = treated, dashed = synthetic
    const ly = lineRow[b][1] + 19;
    const lx = plotLeft[c] + plotWidth[c] / 2 - 38;
    graphic.push({ type: "line", silent: true, shape: { x1: lx, y1: ly, x2: lx + 14, y2: ly }, style: { stroke: "#333", lineWidth: 0.8 } });
    text(lx + 18, ly, legendNames[0], 4.5, "left", false, "#333");
    graphic.push({ type: "line", silent: true, shape: { x1: lx + 40, y1: ly, x2: lx + 54, y2: ly }, style: { stroke: "#444", lineWidth: 0.7, lineDash: [3, 1.5] } });
    text(lx + 58, ly, legendNames[1], 4.5, "left", false, "#333");

    // gaps for treated and placebo states
    gi = grid.length;
    grid.push({ left: plotLeft[c], width: plotWidth[c], top: gapRow[b][0], height: gapRow[b][1] - gapRow[b][0] });
    xAxis.push({
      type: "value", gridIndex: gi, min: 0, max: AXIS_MONTHS, interval: 6,
      axisLabel: { fontSize: 3, fontFamily: FONT, color: "#333", margin: 2, formatter: monthLabel },
      axisLine: thinAxis, axisTick: thinTick, splitLine: softGrid,
    });
    yAxis.push({
      type: "value", gridIndex: gi, min: gapY[i].min, max: gapY[i].max, interval: gapY[i].step,
      name: gapAxisTitles[i], nameLocation: "middle", nameGap: 10, nameRotate: 90,
      nameTextStyle: { fontSize: 2.6, fontFamily: FONT, color: "#222" },
      axisLabel: { fontSize: 3.6, fontFamily: FONT, color: "#333", margin: 2, formatter: stataNum },
      axisLine: thinAxis, axisTick: thinTick, splitLine: softGrid,
    });
    p.placebos.forEach((arr, k) => {
      series.push({
        name: "placebo", type: "line", xAxisIndex: gi, yAxisIndex: gi, symbol: "none", silent: true, z: 2,
        data: arr.map((v, m) => [m, +(v * p.unit).toFixed(4)]),
        lineStyle: { color: placeboColors[k % placeboColors.length], width: 0.6, opacity: 0.9 },
      });
    });
    series.push({
      name: "Treated gap", type: "line", xAxisIndex: gi, yAxisIndex: gi, symbol: "none", silent: true, z: 4,
      data: p.treated.map((v, m) => [m, +(v - p.synth[m]).toFixed(4)]),
      lineStyle: { color: "#000", width: 1.5 },
      markLine: {
        silent: true, symbol: "none", label: { show: false },
        lineStyle: { color: "#888", width: 0.6, type: [2, 1.5] },
        data: [{ xAxis: TREAT_MONTH }, { yAxis: 0 }],
      },
    });

    // RMSPE ratio histogram
    gi = grid.length;
    grid.push({ left: histLeft[c], width: histWidth[c], top: histRow[b][0], height: histRow[b][1] - histRow[b][0] });
    xAxis.push({
      type: "value", gridIndex: gi, min: 0, max: HIST_X_MAX, interval: 0.05,
      name: "Post-Pre RMSPE Ratio for all Donors", nameLocation: "middle", nameGap: 15,
      nameTextStyle: { fontSize: 3.4, fontFamily: FONT, color: "#333" },
      axisLabel: { fontSize: 2.4, fontFamily: FONT, color: "#444", margin: 1.5, rotate: 90, formatter: (v: number) => v.toFixed(2) },
      axisLine: { show: true, lineStyle: { color: "#999", width: 0.5 } }, axisTick: { show: false }, splitLine: { show: false },
    });
    const hy = histY[i];
    yAxis.push({
      type: "value", gridIndex: gi, min: 0, max: hy.max, interval: hy.step,
      name: "Frequency", nameLocation: "middle", nameGap: 9, nameRotate: 90,
      nameTextStyle: { fontSize: 3, fontFamily: FONT, color: "#333" },
      axisLabel: { fontSize: 3.4, fontFamily: FONT, color: "#333", margin: 3, formatter: (v: number) => v.toFixed(hy.dec) },
      axisLine: { show: false }, axisTick: { show: false },
      splitLine: { show: true, lineStyle: { color: "#e2e2e2", width: 0.6 } },
    });
    const bars = p.ratios.map((r, k) => [r, p.counts[k]]);
    bars.push([p.ri, p.riCount]);
    const unitPx = (histRow[b][1] - histRow[b][0]) / hy.max;
    series.push({
      name: "ratio", type: "bar", xAxisIndex: gi, yAxisIndex: gi, silent: true, barWidth: 1.3,
      data: bars,
      itemStyle: { color: "#9ec0f2", opacity: 0.85 },
      markLine: {
        silent: true, symbol: ["none", "arrow"], symbolSize: 5,
        lineStyle: { color: "#000", width: 1, type: "solid" },
        label: { show: true, position: "start", formatter: "( RI )", fontSize: 5.5, fontFamily: FONT, color: "#000", distance: 2 },
        data: [[{ coord: [p.ri, p.riCount + 17 / unitPx] }, { coord: [p.ri, p.riCount + 3 / unitPx] }]],
      },
    });
  });

  // table frame
  graphic.push({ type: "line", silent: true, shape: { x1: DIVIDER_X, y1: 0, x2: DIVIDER_X, y2: H }, style: { stroke: "#8a8a8a", lineWidth: 1.5 } });
  hline(0, W, 0.5, 1.2, "#666");
  [0, 1].forEach((b) => {
    if (b === 1) hline(0, W, blockTop[b], 1.2, "#666");
    hline(DIVIDER_X, W, headerLine[b], 1, "#777");
    rowSeps[b].forEach((y) => hline(0, W, y, 1, "#888"));
  });
  hline(0, W, blockEnd[1], 1.2, "#666");

  [0, 1].forEach((b) => {
    const titleY = b === 0 ? 11 : 487.5;
    [0, 1, 2].forEach((c) => text(colCenters[c], titleY, outcomes[b * 3 + c], 8.5, "center", true));

    const top1 = headerLine[b];
    const [s1, s2, s3] = rowSeps[b];
    const mid1 = (top1 + s1) / 2 + 4;
    text(113, mid1 - 5, "Treated State (solid) vs.", 8.3, "right");
    text(113, mid1 + 5, "Synthetic State (dashed)", 8.3, "right");

    const gapLines = ["Gap between each States's", "Observed and Synthetic", "Outcomes for the Treated", "state (bold) & all Untreated", "Placebos"];
    const mid2 = (s1 + s2) / 2;
    gapLines.forEach((t, k) => text(4, mid2 + (k - 2) * 9.6, t, 8.3, "left"));

    const mid3 = (s2 + s3) / 2;
    text(58, mid3 - 5, "Histogram of RMSPE", 8.3, "center");
    text(58, mid3 + 5, "Ratios", 8.3, "center");

    const pY = s3 + 7;
    text(113, pY, "p-value", 8.3, "right", true);
    [0, 1, 2].forEach((c) => text(plotLeft[c] - 18, pY, pValues[b * 3 + c], 8.3, "left", true));
    yearLabels.forEach((lab, k) => {
      const yc = s3 + 24 + k * 25.5;
      text(113, yc, lab, 8.3, "right");
      [0, 1, 2].forEach((c) => {
        const e = panels[b * 3 + c].effects[k];
        text(plotLeft[c] - 18, yc - 5, `${e[0]} incidents per 1,000,000`, 8.3, "left");
        text(plotLeft[c] - 18, yc + 5, `[95% CI: ${e[1]}, ${e[2]} ]`, 8.3, "left");
      });
    });
  });

  return { animation: false, backgroundColor: "#fff", grid, xAxis, yAxis, series, graphic };
}

export default function App() {
  const ref = useRef<HTMLDivElement>(null);
  useEffect(() => {
    if (!ref.current) return;
    const chart = echarts.init(ref.current, undefined, { renderer: "svg" });
    chart.setOption(buildOption() as any);
    return () => chart.dispose();
  }, []);
  return <div ref={ref} style={{ position: "absolute", left: 0, top: 0, width: W, height: H, background: "#fff" }} />;
}
